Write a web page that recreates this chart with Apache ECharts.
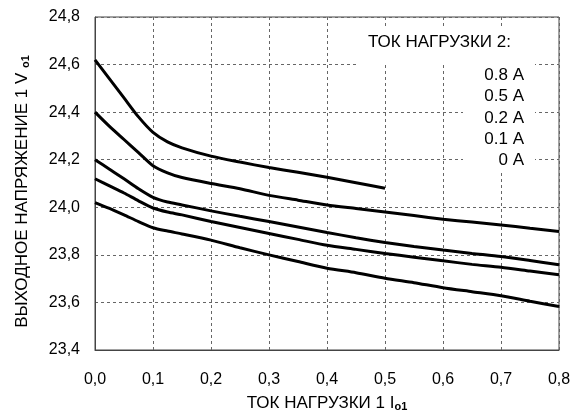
<!DOCTYPE html>
<html>
<head>
<meta charset="utf-8">
<script src="https://cdn.jsdelivr.net/npm/echarts@6/dist/echarts.min.js"></script>
<style>html,body{margin:0;padding:0;background:#fff}#c{width:579px;height:410px}</style>
</head>
<body>
<div id="c"></div>
<script>
// Load current 1 (A)
const xs = [0, 0.025, 0.05, 0.075, 0.1, 0.125, 0.15, 0.2, 0.25, 0.3, 0.35, 0.4, 0.45, 0.5, 0.55, 0.6, 0.65, 0.7, 0.75, 0.8];
// Output voltage for each load current 2
const v08 = [24.62, 24.54, 24.46, 24.38, 24.315, 24.275, 24.25, 24.215, 24.19, 24.167, 24.147, 24.126, 24.103, 24.08];
const v05 = [24.40, 24.34, 24.285, 24.23, 24.175, 24.145, 24.125, 24.10, 24.078, 24.05, 24.03, 24.01, 23.995, 23.98, 23.965, 23.95, 23.938, 23.926, 23.912, 23.898];
const v02 = [24.20, 24.16, 24.12, 24.078, 24.042, 24.022, 24.01, 23.985, 23.962, 23.94, 23.917, 23.894, 23.872, 23.852, 23.835, 23.82, 23.806, 23.793, 23.776, 23.758];
const v01 = [24.12, 24.09, 24.06, 24.027, 23.997, 23.98, 23.968, 23.94, 23.915, 23.89, 23.865, 23.84, 23.823, 23.806, 23.79, 23.775, 23.76, 23.748, 23.732, 23.716];
const v00 = [24.02, 23.995, 23.968, 23.94, 23.914, 23.90, 23.888, 23.862, 23.83, 23.80, 23.772, 23.744, 23.725, 23.702, 23.683, 23.662, 23.645, 23.628, 23.605, 23.583];
const seriesNames = ['0.8 A', '0.5 A', '0.2 A', '0.1 A', '0 A'];
const seriesVals = [v08, v05, v02, v01, v00];
const legendTitle = 'ТОК НАГРУЗКИ 2:';
const xTitle = 'ТОК НАГРУЗКИ 1 ';
const yTitle = 'ВЫХОДНОЕ НАПРЯЖЕНИЕ 1 V ';

const FONT = '"Liberation Sans", Arial, sans-serif';
const chart = echarts.init(document.getElementById('c'), null, {renderer: 'canvas'});
const fmt = v => v.toFixed(1).replace('.', ',');

const series = seriesVals.map((vals, i) => ({
  name: seriesNames[i],
  type: 'line',
  data: vals.map((v, j) => [xs[j], v]),
  showSymbol: false,
  smooth: 0.25,
  lineStyle: {color: '#000', width: 3},
  animation: false
}));

const legendTexts = seriesNames.map((n, i) => ({
  type: 'text',
  x: 524,
  y: 75.5 + i * 21.2,
  z: 51,
  style: {text: n, font: '17px ' + FONT, fill: '#000', align: 'right', verticalAlign: 'middle', textAlign: 'right', textVerticalAlign: 'middle'}
}));

chart.setOption({
  animation: false,
  backgroundColor: '#fff',
  grid: {left: 95, right: 20, top: 17, bottom: 60, show: true, borderColor: '#444', borderWidth: 1,
         containLabel: false, outerBoundsMode: 'none'},
  xAxis: {
    type: 'value', min: 0, max: 0.8, interval: 0.1,
    axisLine: {show: true, lineStyle: {color: '#444', width: 1}},
    axisTick: {show: false},
    axisLabel: {formatter: fmt, fontFamily: FONT, fontSize: 16, color: '#000', margin: 22},
    splitLine: {show: true, lineStyle: {color: '#666', type: [3, 3], width: 1}},
    name: '{a|' + xTitle + 'I}{b|o1}',
    nameLocation: 'middle', nameGap: 45,
    nameTextStyle: {rich: {
      a: {fontFamily: FONT, fontSize: 17, color: '#000'},
      b: {fontFamily: FONT, fontSize: 11, fontWeight: 'bold', color: '#000', verticalAlign: 'bottom', padding: [6, 0, 0, 0]}
    }}
  },
  yAxis: {
    type: 'value', min: 23.4, max: 24.8, interval: 0.2,
    axisLine: {show: true, lineStyle: {color: '#444', width: 1}},
    axisTick: {show: false},
    axisLabel: {formatter: fmt, fontFamily: FONT, fontSize: 16, color: '#000', margin: 15},
    splitLine: {show: true, lineStyle: {color: '#666', type: [3, 3], width: 1}},
    name: '{a|' + yTitle + '}{b|o1}',
    nameLocation: 'middle', nameGap: 64, nameRotate: 90,
    nameTextStyle: {padding: [0, 16, 0, 0], rich: {
      a: {fontFamily: FONT, fontSize: 17, color: '#000'},
      b: {fontFamily: FONT, fontSize: 11, fontWeight: 'bold', color: '#000', verticalAlign: 'bottom', padding: [6, 0, 0, 0]}
    }}
  },
  series: series,
  graphic: [
    {type: 'rect', left: 357, top: 27, z: 50, shape: {width: 178, height: 38}, style: {fill: '#fff'}},
    {type: 'text', x: 368, y: 42, z: 51, style: {text: legendTitle, font: '17px ' + FONT, fill: '#000', verticalAlign: 'middle', textVerticalAlign: 'middle'}},
    {type: 'rect', left: 463, top: 65, z: 50, shape: {width: 72, height: 105}, style: {fill: '#fff'}},
    ...legendTexts
  ]
});
</script>
</body>
</html>
